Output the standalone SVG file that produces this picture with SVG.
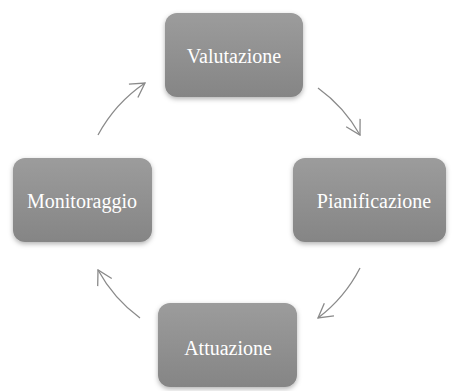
<svg xmlns="http://www.w3.org/2000/svg" width="453" height="391" viewBox="0 0 453 391">
<style>
.node rect{fill:url(#g);filter:url(#sh)}
.node text{font-family:"Liberation Serif","Times New Roman",serif;font-size:20px;fill:#ffffff;text-anchor:middle}
.conn path{fill:none;stroke:#8a8a8a;stroke-width:1.3;marker-end:url(#ah)}
</style>
<defs>
<linearGradient id="g" x1="0" y1="0" x2="0" y2="1">
<stop offset="0" stop-color="#9c9c9c"/>
<stop offset="1" stop-color="#858585"/>
</linearGradient>
<filter id="sh" x="-10%" y="-10%" width="120%" height="130%">
<feDropShadow dx="0" dy="2" stdDeviation="2.5" flood-color="#000" flood-opacity="0.3"/>
</filter>
<marker id="ah" viewBox="0 0 16 18" refX="15" refY="9" markerWidth="16" markerHeight="18" markerUnits="userSpaceOnUse" orient="auto">
<path d="M1,1 L15,9 L1,17" fill="none" stroke="#8a8a8a" stroke-width="1.3"/>
</marker>
</defs>
<rect width="453" height="391" fill="#ffffff"/>
<g class="conn">
<path d="M98,135 A147,147 0 0 1 145,83"/>
<path d="M318,88 A147,147 0 0 1 360,135"/>
<path d="M360,268 A147,147 0 0 1 318,318"/>
<path d="M140,318 A147,147 0 0 1 98,270"/>
</g>
<g id="valutazione" class="node">
<rect x="165" y="13" width="138" height="84" rx="12"/>
<text x="234" y="63">Valutazione</text>
</g>
<g id="pianificazione" class="node">
<rect x="293" y="158" width="153" height="84" rx="12"/>
<text x="374" y="208">Pianificazione</text>
</g>
<g id="attuazione" class="node">
<rect x="158" y="303" width="139" height="84" rx="12"/>
<text x="228" y="355">Attuazione</text>
</g>
<g id="monitoraggio" class="node">
<rect x="13" y="158" width="139" height="84" rx="12"/>
<text x="82" y="208">Monitoraggio</text>
</g>
</svg>
